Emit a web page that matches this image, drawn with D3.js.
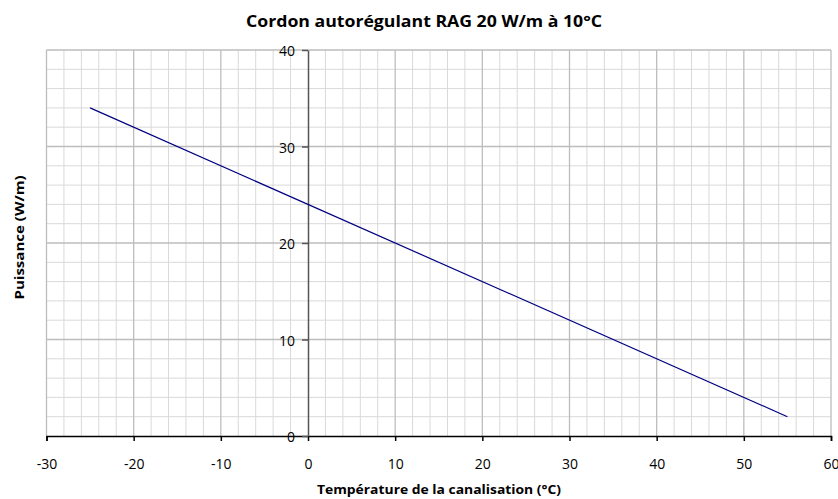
<!DOCTYPE html>
<html>
<head>
  <meta charset="UTF-8">
  <style>
    body { margin: 0; padding: 0; background: #fff; }
    svg { display: block; font-family: "Open Sans", Arial, sans-serif; }
    .title { font-weight: bold; font-size: 16px; }
    .axis-title { font-weight: bold; font-size: 13px; }
  </style>
</head>
<body>
<svg id="chart"></svg>
<script src="https://d3js.org/d3.v7.min.js"></script>
<script>
let width = 838, height = 499;

// données
let temperatures = [-25, 55];
let puissances = [34, 2];
let xTicks = [-30, -20, -10, 0, 10, 20, 30, 40, 50, 60];
let yTicks = [0, 10, 20, 30, 40];

let svg = d3.select("#chart")
    .attr("width", width)
    .attr("height", height);

let x = d3.scaleLinear().domain([-30, 60]).range([46.5, 831]);
let y = d3.scaleLinear().domain([0, 40]).range([436, 50]);

let grid = svg.append("g");

// quadrillage secondaire (pas de 2)
let minorX = d3.range(-30, 61, 2).filter(v => v % 10 != 0);
let minorY = d3.range(0, 41, 2).filter(v => v % 10 != 0);

grid.selectAll(".mx").data(minorX).enter().append("line")
    .attr("x1", d => x(d)).attr("x2", d => x(d))
    .attr("y1", y(40)).attr("y2", y(0))
    .attr("stroke", "#d9d9d9").attr("stroke-width", 1);

grid.selectAll(".my").data(minorY).enter().append("line")
    .attr("x1", x(-30)).attr("x2", x(60))
    .attr("y1", d => y(d)).attr("y2", d => y(d))
    .attr("stroke", "#d9d9d9").attr("stroke-width", 1);

// quadrillage principal
grid.selectAll(".Mx").data(xTicks.filter(v => v != 0)).enter().append("line")
    .attr("x1", d => x(d)).attr("x2", d => x(d))
    .attr("y1", y(40)).attr("y2", y(0))
    .attr("stroke", "#bdbdbd").attr("stroke-width", 1.3);

grid.selectAll(".My").data(yTicks.filter(v => v != 0)).enter().append("line")
    .attr("x1", x(-30)).attr("x2", x(60))
    .attr("y1", d => y(d)).attr("y2", d => y(d))
    .attr("stroke", "#bdbdbd").attr("stroke-width", 1.3);

// axe X (à y = 0)
let xAxis = svg.append("g")
    .attr("transform", "translate(0," + y(0) + ")")
    .call(d3.axisBottom(x).tickValues(xTicks).tickFormat(d => String(d))
        .tickSize(5).tickPadding(18));
xAxis.attr("font-family", null).attr("font-size", 14);
xAxis.select(".domain").attr("stroke", "#000").attr("stroke-width", 1.5);
xAxis.selectAll(".tick line").attr("stroke", "#000").attr("stroke-width", 1.5);
xAxis.selectAll(".tick text").attr("fill", "#000");

// axe Y (à x = 0)
let yAxis = svg.append("g")
    .attr("transform", "translate(" + x(0) + ",0)")
    .call(d3.axisLeft(y).tickValues(yTicks).tickFormat(d => String(d))
        .tickSize(6).tickPadding(7).tickSizeOuter(0));
yAxis.attr("font-family", null).attr("font-size", 14);
yAxis.select(".domain").attr("stroke", "#555").attr("stroke-width", 1.5);
yAxis.selectAll(".tick line").attr("stroke", "#555").attr("stroke-width", 1.5);
yAxis.selectAll(".tick text").attr("fill", "#000").attr("dy", "0.4em");

// courbe
let line = d3.line()
    .x(d => x(d[0]))
    .y(d => y(d[1]));

svg.append("path")
    .datum(temperatures.map((t, i) => [t, puissances[i]]))
    .attr("d", line)
    .attr("fill", "none")
    .attr("stroke", "#000080")
    .attr("stroke-width", 1.2);

// titres
svg.append("text")
    .attr("class", "title")
    .attr("x", 424).attr("y", 27)
    .attr("text-anchor", "middle")
    .attr("textLength", 356)
    .attr("lengthAdjust", "spacingAndGlyphs")
    .text("Cordon autorégulant RAG 20 W/m à 10°C");

svg.append("text")
    .attr("class", "axis-title")
    .attr("x", 439).attr("y", 494)
    .attr("text-anchor", "middle")
    .attr("textLength", 244)
    .attr("lengthAdjust", "spacingAndGlyphs")
    .text("Température de la canalisation  (°C)");

svg.append("text")
    .attr("class", "axis-title")
    .attr("transform", "translate(24,237.5) rotate(-90)")
    .attr("text-anchor", "middle")
    .attr("textLength", 124)
    .attr("lengthAdjust", "spacingAndGlyphs")
    .text("Puissance (W/m)");
</script>
</body>
</html>
